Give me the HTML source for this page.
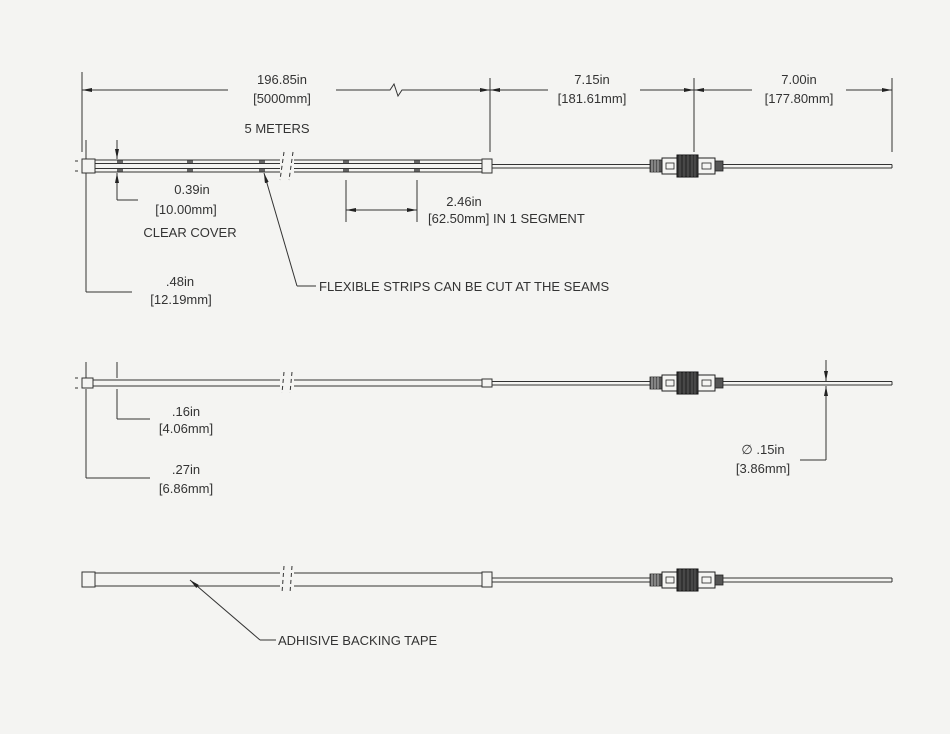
<!DOCTYPE html>
<html><head><meta charset="utf-8"><style>
html,body{margin:0;padding:0;background:#f4f4f2}
svg{display:block}
text{font-family:"Liberation Sans",sans-serif;font-size:13px;fill:#333}
</style></head><body>
<svg width="950" height="734" viewBox="0 0 950 734" xmlns="http://www.w3.org/2000/svg">
<defs>
<marker id="a" viewBox="0 0 10 4" refX="10" refY="2" markerWidth="10" markerHeight="4" orient="auto-start-reverse" markerUnits="userSpaceOnUse"><path d="M0,0L10,2L0,4z" fill="#222"/></marker>
<g id="conn">
<rect x="650" y="-6" width="12" height="12" fill="#555" stroke="#222" stroke-width="0.8"/>
<path d="M652,-6v12M655,-6v12M658,-6v12" stroke="#ccc" stroke-width="0.8"/>
<rect x="662" y="-8" width="15" height="16" fill="#f4f4f2" stroke="#222"/>
<rect x="666" y="-3" width="8" height="6" fill="none" stroke="#222" stroke-width="0.8"/>
<rect x="677" y="-11" width="21" height="22" fill="#333" stroke="#111"/>
<path d="M680,-11v22M684,-11v22M688,-11v22M692,-11v22M695,-11v22" stroke="#777" stroke-width="0.6"/>
<rect x="698" y="-8" width="17" height="16" fill="#f4f4f2" stroke="#222"/>
<rect x="702" y="-3" width="9" height="6" fill="none" stroke="#222" stroke-width="0.8"/>
<rect x="715" y="-5" width="8" height="10" fill="#555" stroke="#222" stroke-width="0.8"/>
</g>
<g id="seam">
<rect x="-3" y="160.5" width="6" height="2.5" fill="#666"/>
<rect x="-3" y="169" width="6" height="2.5" fill="#666"/>
</g>
</defs>
<g stroke="#333" stroke-width="1" fill="none">
<path d="M82,72V152M490,78V152M694,78V152M892,78V152"/>
<path d="M82,90H228M336,90H390L394,84L398,96L402,90H490" marker-start="url(#a)" marker-end="url(#a)"/>
<path d="M490,90H548M640,90H694" marker-start="url(#a)" marker-end="url(#a)"/>
<path d="M694,90H752M846,90H892" marker-start="url(#a)" marker-end="url(#a)"/>
<rect x="82" y="159" width="13" height="14" fill="#f4f4f2"/>
<path d="M95,160H280M95,163.5H280M95,168.5H280M95,172H280M294,160H482M294,163.5H482M294,168.5H482M294,172H482"/>
<path d="M284,152L280,180M293,152L289,180" stroke-dasharray="4,3"/>
<rect x="482" y="159" width="10" height="14" fill="#f4f4f2"/>
<path d="M492,164.5H650M723,164.5H892M492,168H650M723,168H892M892,164.5V168"/>
<path d="M75,161H78M75,171H78"/>
<path d="M86,140V159M117,140V159" marker-end="url(#a)"/>
<path d="M86,292V173M117,200V173" marker-end="url(#a)"/>
<path d="M117,200H138M86,292H132"/>
<path d="M346,180V222M417,180V222"/>
<path d="M346,210H417" marker-start="url(#a)" marker-end="url(#a)"/>
<path d="M297,286L264,173" marker-end="url(#a)"/>
<path d="M297,286H316"/>
<rect x="82" y="378" width="11" height="10" fill="#f4f4f2"/>
<path d="M93,380H280M93,386H280M294,380H482M294,386H482"/>
<path d="M284,372L282,393M292,372L290,393" stroke-dasharray="4,3"/>
<rect x="482" y="379" width="10" height="8" fill="#f4f4f2"/>
<path d="M492,381.5H650M723,381.5H892M492,385H650M723,385H892M892,381.5V385"/>
<path d="M75,378H78M75,388H78"/>
<path d="M86,362V378M117,362V378M826,360V381" marker-end="url(#a)"/>
<path d="M86,478V389M117,419V389M826,460V386" marker-end="url(#a)"/>
<path d="M117,419H150M86,478H150M826,460H800"/>
<rect x="82" y="572" width="13" height="15" fill="#f4f4f2"/>
<path d="M95,573H280M95,586H280M294,573H482M294,586H482"/>
<path d="M284,566L282,593M292,566L290,593" stroke-dasharray="4,3"/>
<rect x="482" y="572" width="10" height="15" fill="#f4f4f2"/>
<path d="M492,578H650M723,578H892M492,582H650M723,582H892M892,578V582"/>
<path d="M260,640L190,580" marker-end="url(#a)"/>
<path d="M260,640H276"/>
</g>
<use href="#seam" x="120"/><use href="#seam" x="190"/><use href="#seam" x="262"/><use href="#seam" x="346"/><use href="#seam" x="417"/>
<use href="#conn" y="166"/>
<use href="#conn" y="383"/>
<use href="#conn" y="580"/>
<g text-anchor="middle">
<text x="282" y="84">196.85in</text><text x="282" y="103">[5000mm]</text>
<text x="277" y="133">5 METERS</text>
<text x="592" y="84">7.15in</text><text x="592" y="103">[181.61mm]</text>
<text x="799" y="84">7.00in</text><text x="799" y="103">[177.80mm]</text>
<text x="192" y="194">0.39in</text><text x="186" y="214">[10.00mm]</text><text x="190" y="237">CLEAR COVER</text>
<text x="180" y="286">.48in</text><text x="181" y="304">[12.19mm]</text>
<text x="464" y="206">2.46in</text>
<text x="186" y="416">.16in</text><text x="186" y="433">[4.06mm]</text>
<text x="186" y="474">.27in</text><text x="186" y="493">[6.86mm]</text>
<text x="763" y="454">∅ .15in</text><text x="763" y="473">[3.86mm]</text>
</g>
<text x="428" y="223">[62.50mm] IN 1 SEGMENT</text>
<text x="319" y="291">FLEXIBLE STRIPS CAN BE CUT AT THE SEAMS</text>
<text x="278" y="645">ADHISIVE BACKING TAPE</text>
</svg>
</body></html>
